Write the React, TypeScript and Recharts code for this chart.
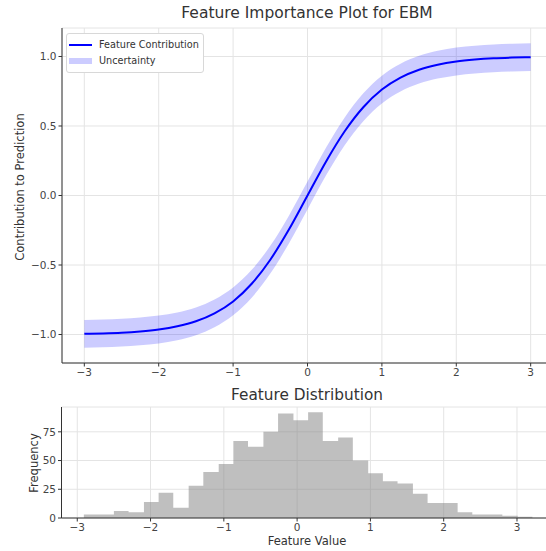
import React from "react";
import { ComposedChart, Line, Area, XAxis, YAxis, CartesianGrid, Legend } from "recharts";

// values
const featureX = [-3, -2.75, -2.5, -2.25, -2, -1.75, -1.5, -1.25, -1, -0.75, -0.5, -0.25, 0, 0.25, 0.5, 0.75, 1, 1.25, 1.5, 1.75, 2, 2.25, 2.5, 2.75, 3];
const contribution = [-0.995, -0.992, -0.987, -0.978, -0.964, -0.941, -0.905, -0.848, -0.762, -0.635, -0.462, -0.245, 0, 0.245, 0.462, 0.635, 0.762, 0.848, 0.905, 0.941, 0.964, 0.978, 0.987, 0.992, 0.995];
const UNCERTAINTY = 0.1;

const binEdges = [-2.91, -2.71, -2.5, -2.3, -2.09, -1.89, -1.69, -1.48, -1.28, -1.07, -0.87, -0.67, -0.46, -0.26, -0.05, 0.15, 0.35, 0.56, 0.76, 0.97, 1.17, 1.37, 1.58, 1.78, 1.99, 2.19, 2.39, 2.6, 2.8, 3.01, 3.21];
const binCounts = [3, 3, 6, 5, 14, 22, 9, 28, 40, 47, 67, 62, 75, 91, 85, 92, 67, 70, 50, 39, 32, 30, 21, 13, 13, 5, 3, 3, 2, 1];

const xTicks = [-3, -2, -1, 0, 1, 2, 3];
const contribTicks = [-1, -0.5, 0, 0.5, 1];
const freqTicks = [0, 25, 50, 75];

const curveData = featureX.map((x, i) => ({
  x,
  y: contribution[i],
  band: [contribution[i] - UNCERTAINTY, contribution[i] + UNCERTAINTY],
}));

const histData = binEdges.map((x, i) => ({ x, count: binCounts[Math.min(i, binCounts.length - 1)] }));

const FONT = "'DejaVu Sans', sans-serif";
const minus = (s: string) => s.replace("-", "\u2212");
const tickStyle = { fontSize: 10.5, fill: "#444", fontFamily: FONT };

const renderLegend = () => (
  <div
    style={{
      background: "#fff",
      border: "1px solid #d8d8d8",
      borderRadius: 3,
      padding: "3px 4px 3px 2px",
      fontFamily: FONT,
      fontSize: 9.7,
      color: "#333",
      lineHeight: "16px",
    }}
  >
    <div style={{ display: "flex", alignItems: "center" }}>
      <span style={{ width: 23, height: 2, background: "#0000ff", marginRight: 7 }} />
      Feature Contribution
    </div>
    <div style={{ display: "flex", alignItems: "center" }}>
      <span style={{ width: 23, height: 6, background: "rgba(0,0,255,0.2)", marginRight: 7 }} />
      Uncertainty
    </div>
  </div>
);

const textBase: React.CSSProperties = { position: "absolute", fontFamily: FONT, color: "#333", whiteSpace: "nowrap" };

export default function App() {
  return (
    <div style={{ position: "absolute", left: 0, top: 0, width: 546, height: 551, overflow: "hidden", background: "#fff" }}>
      <div style={{ ...textBase, left: 307, top: 4, fontSize: 15.5, transform: "translateX(-50%)" }}>
        Feature Importance Plot for EBM
      </div>
      <div style={{ ...textBase, left: 20, top: 187, fontSize: 11.5, transform: "translate(-50%, -50%) rotate(-90deg)" }}>
        Contribution to Prediction
      </div>

      <div style={{ position: "absolute", left: 0, top: 0 }}>
        <ComposedChart width={600} height={400} data={curveData} margin={{ top: 28, right: 47, bottom: 7, left: 22 }}>
          <CartesianGrid stroke="#e4e4e4" />
          <XAxis
            type="number"
            dataKey="x"
            domain={[-3.3, 3.3]}
            ticks={xTicks}
            height={30}
            allowDataOverflow
            tick={tickStyle}
            tickSize={3.5}
            tickMargin={2}
            tickFormatter={(v) => minus(String(v))}
            stroke="#333"
          />
          <YAxis
            type="number"
            domain={[-1.205, 1.205]}
            ticks={contribTicks}
            width={40}
            allowDataOverflow
            tick={tickStyle}
            tickSize={3.5}
            tickMargin={2}
            tickFormatter={(v) => minus(Number(v).toFixed(1))}
            stroke="#333"
          />
          <Area
            dataKey="band"
            name="Uncertainty"
            type="monotone"
            fill="#0000ff"
            fillOpacity={0.2}
            stroke="none"
            isAnimationActive={false}
          />
          <Line dataKey="y" name="Feature Contribution" type="monotone" stroke="#0000ff" strokeWidth={2} dot={false} isAnimationActive={false} />
          <Legend
            content={renderLegend}
            layout="horizontal"
            verticalAlign="middle"
            align="center"
            wrapperStyle={{ left: 66, top: 33, width: "auto", bottom: "auto", right: "auto" }}
          />
        </ComposedChart>
      </div>

      <div style={{ ...textBase, left: 307, top: 386, fontSize: 15.3, transform: "translateX(-50%)" }}>
        Feature Distribution
      </div>
      <div style={{ ...textBase, left: 34, top: 463, fontSize: 11.5, transform: "translate(-50%, -50%) rotate(-90deg)" }}>
        Frequency
      </div>
      <div style={{ ...textBase, left: 307, top: 534, fontSize: 11.5, transform: "translateX(-50%)" }}>
        Feature Value
      </div>

      <div style={{ position: "absolute", left: 0, top: 380 }}>
        <ComposedChart width={600} height={171} data={histData} margin={{ top: 27, right: 46, bottom: 3, left: 21.5 }}>
          <CartesianGrid stroke="#e4e4e4" />
          <XAxis
            type="number"
            dataKey="x"
            domain={[-3.215, 3.505]}
            ticks={xTicks}
            height={30}
            allowDataOverflow
            tick={tickStyle}
            tickSize={3.5}
            tickMargin={2}
            tickFormatter={(v) => minus(String(v))}
            stroke="#333"
          />
          <YAxis
            type="number"
            domain={[0, 96.6]}
            ticks={freqTicks}
            width={40}
            allowDataOverflow
            tick={tickStyle}
            tickSize={3.5}
            tickMargin={2}
            stroke="#333"
          />
          <Area dataKey="count" type="stepAfter" fill="#808080" fillOpacity={0.5} stroke="none" isAnimationActive={false} />
        </ComposedChart>
      </div>
    </div>
  );
}
